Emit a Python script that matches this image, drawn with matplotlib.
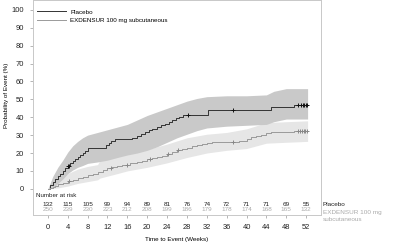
import numpy as np
import matplotlib
matplotlib.use("Agg")
from matplotlib import pyplot as plt

plt.rcParams['font.family'] = ['Liberation Sans', 'DejaVu Sans']

# placebo curve (weeks, % with event)
pl_t = [0, 0.5, 1, 1.5, 2, 2.5, 3, 3.5, 4, 4.5, 5, 5.5, 6, 6.5, 7, 7.5, 8, 11.8, 12.3, 12.8, 13.5,
        17, 18, 18.8, 19.5, 20.3, 21, 22, 22.8, 23.5, 24.3, 25, 25.8, 26.5, 27.3, 28, 32.2, 44.9, 49.5, 52.3]
pl_s = [0, 2, 4, 5.5, 7, 8.5, 10, 11.5, 13, 14.2, 15.3, 16.5, 17.5, 18.7, 19.8, 21, 22.6, 24.5, 25.5, 26.5, 27.6,
        28.5, 29.5, 30.5, 31.5, 32.8, 33.5, 34.5, 35.5, 36.5, 37.5, 38.5, 39.5, 40.3, 41, 41.2, 44, 45.5, 47, 47]
pl_ci_t = [0, 1, 2, 3, 4, 5, 6, 7, 8, 10, 12, 14, 16, 18, 20, 22, 24, 26, 28, 30, 32, 36, 40, 44, 45.5, 48, 52.3]
pl_hi = [0, 7, 12, 16, 20.5, 24, 26.5, 28.5, 30, 31.5, 33, 34.5, 36, 38.5, 41, 43, 45, 47, 49, 50.5, 51.5, 52, 52, 52.5, 54.5, 56, 56]
pl_lo = [0, 0.5, 3, 5.5, 8.5, 10.5, 12, 13, 14.2, 15, 16, 17.5, 18.9, 20, 21.5, 23.5, 26, 28.5, 30.5, 32.5, 34, 35, 35.5, 36, 37.5, 39, 39]
pl_cens = [4.0, 4.3, 28.2, 37.2, 50.3, 50.9, 51.3, 51.6, 51.9, 52.2]

# EXDENSUR curve
ex_t = [0, 0.5, 1, 1.5, 2, 3, 4, 5, 6, 7, 8, 9, 10, 11, 12, 13, 14, 15, 16.5, 18, 19, 20, 21, 22, 23, 24,
        25, 26, 27, 28, 29, 30, 31, 32, 33, 38.5, 40, 41, 42, 43, 44, 45, 49.5, 52.3]
ex_s = [0, 0.5, 1, 1.8, 2.5, 3.5, 4.5, 5, 6, 6.5, 7.5, 8.5, 9.5, 10.5, 11.4, 12, 12.5, 13.5, 14.5, 15, 15.7,
        16.5, 17.2, 17.9, 18.6, 19.4, 20.5, 21.5, 22.2, 23, 23.7, 24.4, 25, 25.6, 26.3, 26.9, 27.8, 28.7, 29.5,
        30.3, 31, 31.9, 32.4, 32.4]
ex_ci_t = [0, 2, 4, 6, 8, 10, 10.5, 14, 16, 20, 24, 28, 32, 36, 40, 44, 48, 52.3]
ex_hi = [0, 5, 8.5, 11, 12.5, 13.5, 16, 18, 19.5, 22, 25, 28.5, 30.5, 31.5, 33.5, 37, 37.5, 38]
ex_lo = [0, 0.5, 1.5, 3, 4, 5, 6, 8.5, 10, 12, 14.5, 17.5, 20, 21.5, 22.5, 25.5, 26, 26.5]
ex_cens = [4.3, 12.8, 16.0, 20.5, 24.2, 26.2, 37.2, 50.3, 50.8, 51.2, 51.5, 51.8, 52.1]

# number at risk
weeks = [0, 4, 8, 12, 16, 20, 24, 28, 32, 36, 40, 44, 48, 52]
pl_risk = [132, 115, 105, 99, 94, 89, 81, 76, 74, 72, 71, 71, 69, 55]
ex_risk = [250, 239, 230, 223, 212, 208, 199, 186, 179, 178, 174, 168, 165, 132]

pl_col, pl_band = '#333333', '#c9c9c9'
ex_col, ex_band = '#9a9a9a', '#e6e6e6'


def step_at(t, s, x):
    idx = np.searchsorted(t, x, side='right') - 1
    return np.asarray(s)[idx]


fig = plt.figure(figsize=(4, 2.43), dpi=100)
ax = fig.add_axes([0.0825, 0.115, 0.72, 0.883])

ax.fill_between(ex_ci_t, ex_lo, ex_hi, color=ex_band, lw=0)
ax.fill_between(pl_ci_t, pl_lo, pl_hi, color=pl_band, lw=0)
ax.step(pl_t, pl_s, where='post', color=pl_col, lw=0.7, label='Placebo')
ax.step(ex_t, ex_s, where='post', color=ex_col, lw=0.7, label='EXDENSUR 100 mg subcutaneous')
ax.plot(pl_cens, step_at(pl_t, pl_s, pl_cens), '+', color='#111111', ms=3, mew=0.7)
ax.plot(ex_cens, step_at(ex_t, ex_s, ex_cens), '+', color='#888888', ms=3, mew=0.7)

# risk table inside the frame
ax.text(-2.4, -3.6, 'Number at risk', fontsize=4.5, color='#222222', va='center')
for w, a, b in zip(weeks, pl_risk, ex_risk):
    ax.text(w, -8.7, str(a), fontsize=4.6, color='#222222', ha='center', va='center')
    ax.text(w, -11.8, str(b), fontsize=4.6, color='#aaaaaa', ha='center', va='center')
ax.text(55.4, -8.7, 'Placebo', fontsize=4.6, color='#222222', va='center', clip_on=False)
ax.text(55.4, -12.0, 'EXDENSUR 100 mg\nsubcutaneous', fontsize=4.6, color='#aaaaaa', va='top',
        linespacing=1.5, clip_on=False)

ax.set_xlim(-3, 55)
ax.set_ylim(-14.7, 105.3)
ax.set_xticks(weeks)
ax.set_yticks(range(0, 101, 10))
ax.tick_params(labelsize=5.4, length=2.5, width=0.5, color='#999999', pad=4, labelcolor='#222222')
for sp in ax.spines.values():
    sp.set_color('#c8c8c8')
    sp.set_linewidth(0.7)
ax.set_xlabel('Time to Event (Weeks)', fontsize=4.5, labelpad=4)
ax.set_ylabel('Probability of Event (%)', fontsize=4.5)
ax.yaxis.set_label_coords(-0.082, 0.56)
ax.legend(loc='upper left', frameon=False, fontsize=4.5, handlelength=4.5,
          bbox_to_anchor=(0.0, 0.98), borderaxespad=0.3)

fig.savefig('out.png', dpi=100)
